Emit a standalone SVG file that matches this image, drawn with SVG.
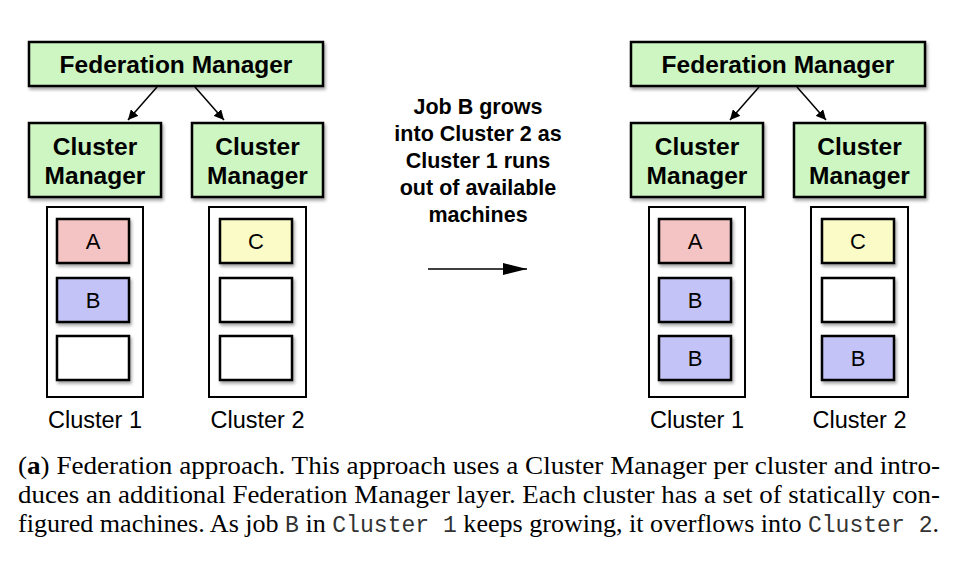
<svg xmlns="http://www.w3.org/2000/svg" width="964" height="568" viewBox="0 0 964 568">
<defs>
<filter id="sh" x="-10%" y="-10%" width="130%" height="140%">
<feDropShadow dx="1.5" dy="2.5" stdDeviation="1.5" flood-color="#000" flood-opacity="0.35"/>
</filter>
<marker id="ah" viewBox="0 0 10 10" refX="10" refY="5" markerWidth="10" markerHeight="10" markerUnits="userSpaceOnUse" orient="auto">
<path d="M0,0 L10,5 L0,10 z" fill="#000"/>
</marker>
<marker id="ah2" viewBox="0 0 24 12" refX="24" refY="6" markerWidth="24" markerHeight="12" markerUnits="userSpaceOnUse" orient="auto">
<path d="M0,0 L24,6 L0,12 z" fill="#000"/>
</marker>
</defs>
<style>
.mgr{fill:#cdf6c3;stroke:#000;stroke-width:2.5;filter:url(#sh)}
.cont{fill:#fff;stroke:#000;stroke-width:2}
.m{stroke:#000;stroke-width:2.5;filter:url(#sh)}
.ma{fill:#f4c3c3}.mb{fill:#c3c3f7}.mc{fill:#fbfbc7}.me{fill:#fff}
.bt{font-family:"Liberation Sans",Arial,sans-serif;font-weight:bold;font-size:24.5px;text-anchor:middle;fill:#000}
.rt{font-family:"Liberation Sans",Arial,sans-serif;font-size:23.5px;text-anchor:middle;fill:#000}
.lt{font-family:"Liberation Sans",Arial,sans-serif;font-size:22px;text-anchor:middle;fill:#000}
.mt{font-family:"Liberation Sans",Arial,sans-serif;font-weight:bold;font-size:21.5px;text-anchor:middle;fill:#000}
.cap{font-family:"Liberation Serif","Times New Roman",serif;font-size:26px;fill:#000}
.mono{font-family:"Liberation Mono","Courier New",monospace;font-size:23px;fill:#333}
.conn{stroke:#000;stroke-width:1.5;fill:none}
</style>

<g id="left">
<g id="fm1"><rect class="mgr" x="29" y="42" width="294" height="44"/><text class="bt" x="176" y="73">Federation Manager</text></g>
<g id="cm1a"><rect class="mgr" x="29" y="123" width="132" height="74"/><text class="bt" x="95" y="155">Cluster</text><text class="bt" x="95" y="184">Manager</text></g>
<g id="cm1b"><rect class="mgr" x="192" y="123" width="131" height="74"/><text class="bt" x="257.5" y="155">Cluster</text><text class="bt" x="257.5" y="184">Manager</text></g>
<g id="c1a">
<rect class="cont" x="47" y="207" width="96" height="190"/>
<rect class="m ma" x="57" y="219" width="72" height="44"/><text class="lt" x="93" y="249">A</text>
<rect class="m mb" x="57" y="278" width="72" height="44"/><text class="lt" x="93" y="308">B</text>
<rect class="m me" x="57" y="336" width="72" height="44"/>
<text class="rt" x="95" y="428">Cluster 1</text>
</g>
<g id="c1b">
<rect class="cont" x="209" y="207" width="97" height="190"/>
<rect class="m mc" x="220" y="219" width="72" height="44"/><text class="lt" x="256" y="249">C</text>
<rect class="m me" x="220" y="278" width="72" height="44"/>
<rect class="m me" x="220" y="336" width="72" height="44"/>
<text class="rt" x="257.5" y="428">Cluster 2</text>
</g>
</g>

<g id="right">
<g id="fm2"><rect class="mgr" x="631" y="42" width="294" height="44"/><text class="bt" x="778" y="73">Federation Manager</text></g>
<g id="cm2a"><rect class="mgr" x="631" y="123" width="132" height="74"/><text class="bt" x="697" y="155">Cluster</text><text class="bt" x="697" y="184">Manager</text></g>
<g id="cm2b"><rect class="mgr" x="794" y="123" width="131" height="74"/><text class="bt" x="859.5" y="155">Cluster</text><text class="bt" x="859.5" y="184">Manager</text></g>
<g id="c2a">
<rect class="cont" x="649" y="207" width="96" height="190"/>
<rect class="m ma" x="659" y="219" width="72" height="44"/><text class="lt" x="695" y="249">A</text>
<rect class="m mb" x="659" y="278" width="72" height="44"/><text class="lt" x="695" y="308">B</text>
<rect class="m mb" x="659" y="336" width="72" height="44"/><text class="lt" x="695" y="366">B</text>
<text class="rt" x="697" y="428">Cluster 1</text>
</g>
<g id="c2b">
<rect class="cont" x="811" y="207" width="97" height="190"/>
<rect class="m mc" x="822" y="219" width="72" height="44"/><text class="lt" x="858" y="249">C</text>
<rect class="m me" x="822" y="278" width="72" height="44"/>
<rect class="m mb" x="822" y="336" width="72" height="44"/><text class="lt" x="858" y="366">B</text>
<text class="rt" x="859.5" y="428">Cluster 2</text>
</g>
</g>

<g id="middle">
<text class="mt" x="478" y="114">Job B grows</text>
<text class="mt" x="478" y="141">into Cluster 2 as</text>
<text class="mt" x="478" y="168">Cluster 1 runs</text>
<text class="mt" x="478" y="195">out of available</text>
<text class="mt" x="478" y="222">machines</text>
</g>

<g id="connectors">
<line class="conn" x1="157" y1="87" x2="128" y2="120" marker-end="url(#ah)"/>
<line class="conn" x1="195" y1="87" x2="224" y2="120" marker-end="url(#ah)"/>
<line class="conn" x1="759" y1="87" x2="730" y2="120" marker-end="url(#ah)"/>
<line class="conn" x1="797" y1="87" x2="826" y2="120" marker-end="url(#ah)"/>
<line class="conn" x1="428" y1="269" x2="527" y2="269" marker-end="url(#ah2)"/>
</g>

<g id="caption">
<text class="cap" x="18" y="474" textLength="922" lengthAdjust="spacingAndGlyphs">(<tspan font-weight="bold">a</tspan>) Federation approach. This approach uses a Cluster Manager per cluster and intro-</text>
<text class="cap" x="18" y="503" textLength="922" lengthAdjust="spacingAndGlyphs">duces an additional Federation Manager layer. Each cluster has a set of statically con-</text>
<text class="cap" x="18" y="532" textLength="921" lengthAdjust="spacingAndGlyphs">figured machines. As job <tspan class="mono">B</tspan> in <tspan class="mono">Cluster 1</tspan> keeps growing, it overflows into <tspan class="mono">Cluster 2</tspan>.</text>
</g>
</svg>
